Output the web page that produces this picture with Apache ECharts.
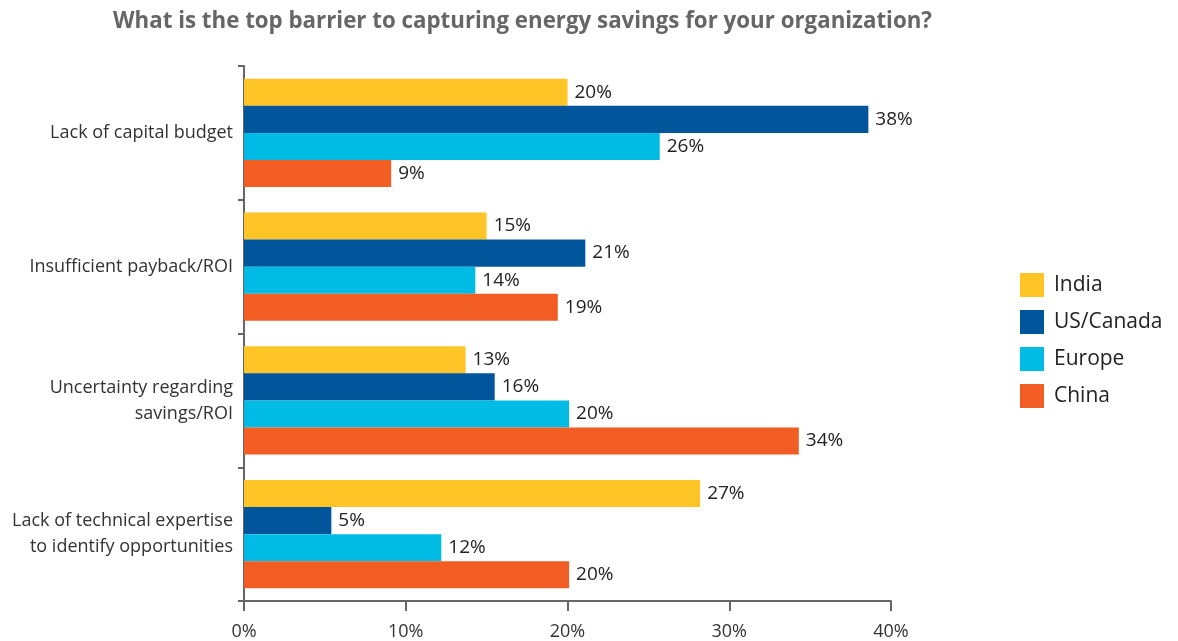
<!DOCTYPE html>
<html>
<head>
<meta charset="utf-8">
<script src="https://cdn.jsdelivr.net/npm/echarts@6/dist/echarts.min.js"></script>
<style>
html,body{margin:0;padding:0;background:#fff;}
#c{width:1178px;height:641px;}
</style>
</head>
<body>
<div id="c"></div>
<script>
const categories = ['Lack of capital budget', 'Insufficient payback/ROI', 'Uncertainty regarding\nsavings/ROI', 'Lack of technical expertise\nto identify opportunities'];
const seriesNames = ['India', 'US/Canada', 'Europe', 'China'];
const india = [20.0, 15.0, 13.7, 28.2];
const usCanada = [38.6, 21.1, 15.5, 5.4];
const europe = [25.7, 14.3, 20.1, 12.2];
const china = [9.1, 19.4, 34.3, 20.1];
const indiaLabels = ['20%', '15%', '13%', '27%'];
const usCanadaLabels = ['38%', '21%', '16%', '5%'];
const europeLabels = ['26%', '14%', '20%', '12%'];
const chinaLabels = ['9%', '19%', '34%', '20%'];
const xTicks = [0, 10, 20, 30, 40];

const colors = ['#FFC425', '#00559B', '#00BCE4', '#F15D22'];
const values = [india, usCanada, europe, china];
const labels = [indiaLabels, usCanadaLabels, europeLabels, chinaLabels];
const FONT = 'Open Sans';

const chart = echarts.init(document.getElementById('c'), null, {renderer: 'canvas'});
chart.setOption({
  animation: false,
  color: colors,
  title: {
    text: 'What is the top barrier to capturing energy savings for your organization?',
    left: 108, top: 6,
    textStyle: {fontFamily: FONT, fontWeight: 'bold', fontSize: 22.3, color: '#666666'}
  },
  legend: {
    orient: 'vertical', left: 1020, top: 273, padding: 0,
    itemWidth: 24, itemHeight: 24, itemGap: 13,
    icon: 'rect',
    textStyle: {fontFamily: FONT, fontSize: 21, color: '#222222', padding: [0, 0, 0, 5]},
    data: seriesNames
  },
  grid: {left: 244, right: 1178 - 891, top: 66, bottom: 40, containLabel: false},
  xAxis: {
    type: 'value', min: 0, max: 40, interval: 10,
    axisLine: {show: true, lineStyle: {color: '#666666', width: 2}},
    axisTick: {show: true, length: 10, lineStyle: {color: '#666666', width: 2}},
    splitLine: {show: false},
    axisLabel: {fontFamily: FONT, fontSize: 18, color: '#333333', margin: 22,
      formatter: v => xTicks.includes(v) ? v + '%' : ''}
  },
  yAxis: {
    type: 'category', inverse: true, data: categories,
    axisLine: {show: true, lineStyle: {color: '#666666', width: 2}},
    axisTick: {show: true, length: 6, lineStyle: {color: '#666666', width: 2}},
    axisLabel: {fontFamily: FONT, fontSize: 18, color: '#333333', margin: 11, lineHeight: 26, align: 'right'}
  },
  series: seriesNames.map((n, i) => ({
    name: n, type: 'bar', data: values[i],
    barGap: '0%', barCategoryGap: '19%',
    itemStyle: {color: colors[i]},
    label: {show: true, position: 'right', distance: 7, fontFamily: FONT, fontSize: 19, color: '#222222',
      formatter: p => labels[i][p.dataIndex]}
  }))
});
</script>
</body>
</html>
